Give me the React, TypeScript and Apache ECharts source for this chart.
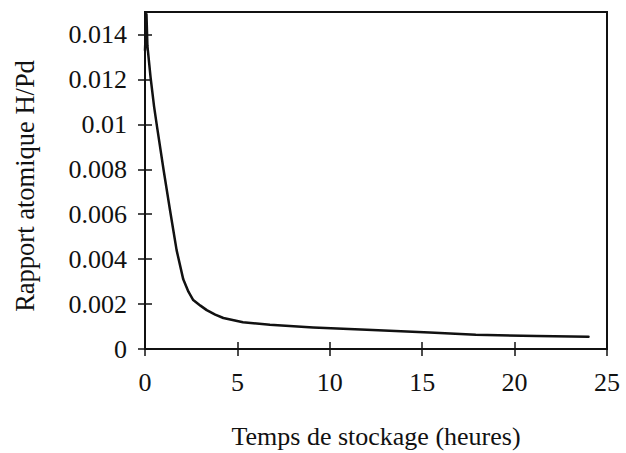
import React, { useEffect, useRef } from "react";
import * as echarts from "echarts";

const hours = [0, 0.08, 0.13, 0.3, 0.49, 0.65, 1.0, 1.35, 1.53, 1.71, 2.07, 2.35, 2.61, 3.0, 3.34, 3.8, 4.24, 5.3, 6.76, 9.1, 12, 15.4, 17.9, 21.2, 24];
const ratio = [0.0133, 0.0149, 0.0135, 0.0121, 0.0108, 0.0099, 0.0080, 0.0062, 0.0053, 0.0044, 0.0031, 0.00255, 0.00218, 0.00193, 0.00173, 0.00153, 0.00138, 0.00119, 0.00108, 0.00096, 0.00086, 0.00073, 0.00063, 0.00058, 0.00055];
const xTicks = [0, 5, 10, 15, 20, 25];
const yTicks = [0, 0.002, 0.004, 0.006, 0.008, 0.01, 0.012, 0.014];
const xTitle = "Temps de stockage (heures)";
const yTitle = "Rapport atomique H/Pd";

const FONT = "Liberation Serif";
const INK = "#111";

export default function App() {
  const ref = useRef<HTMLDivElement>(null);
  useEffect(() => {
    const chart = echarts.init(ref.current!, undefined, { renderer: "svg" });
    const data = hours.map((h, i) => [h, ratio[i]]);
    const baseAxis = {
      axisLine: { show: true, onZero: false, lineStyle: { color: INK, width: 2 } },
      splitLine: { show: false },
    };
    chart.setOption({
      animation: false,
      backgroundColor: "#fff",
      grid: { left: 145, top: 12, width: 462, height: 337, show: true, borderColor: INK, borderWidth: 2, backgroundColor: "transparent" },
      xAxis: [
        {
          ...baseAxis,
          type: "value", min: 0, max: 25, position: "bottom",
          axisTick: { show: true, inside: false, length: 7, lineStyle: { color: INK, width: 1.5 }, customValues: xTicks },
          axisLabel: { show: true, margin: 20, fontFamily: FONT, fontSize: 26, color: INK, customValues: xTicks },
        },
        {
          ...baseAxis,
          type: "value", min: 0, max: 25, position: "bottom",
          axisTick: { show: true, inside: true, length: 7, lineStyle: { color: INK, width: 1.5 }, customValues: xTicks },
          axisLabel: { show: false },
        },
      ],
      yAxis: [
        {
          ...baseAxis,
          type: "value", min: 0, max: 0.015, position: "left",
          axisTick: { show: true, inside: false, length: 7, lineStyle: { color: INK, width: 1.5 }, customValues: yTicks },
          axisLabel: { show: true, margin: 18, fontFamily: FONT, fontSize: 26, color: INK, customValues: yTicks },
        },
        {
          ...baseAxis,
          type: "value", min: 0, max: 0.015, position: "left",
          axisTick: { show: true, inside: true, length: 7, lineStyle: { color: INK, width: 1.5 }, customValues: yTicks },
          axisLabel: { show: false },
        },
      ],
      series: [
        {
          type: "line",
          data,
          showSymbol: false,
          smooth: false,
          lineStyle: { color: INK, width: 2.5, join: "round", cap: "round" },
        },
      ],
      graphic: [
        {
          type: "text", x: 376, y: 436,
          style: { text: xTitle, fontFamily: FONT, fontSize: 26, fill: INK, align: "center", verticalAlign: "middle" },
        },
        {
          type: "text", x: 25, y: 186, rotation: Math.PI / 2,
          style: { text: yTitle, fontFamily: FONT, fontSize: 26.5, fill: INK, align: "center", verticalAlign: "middle" },
        },
      ],
    });
    return () => chart.dispose();
  }, []);
  return <div ref={ref} style={{ width: 626, height: 453, position: "absolute", left: 0, top: 0 }} />;
}
